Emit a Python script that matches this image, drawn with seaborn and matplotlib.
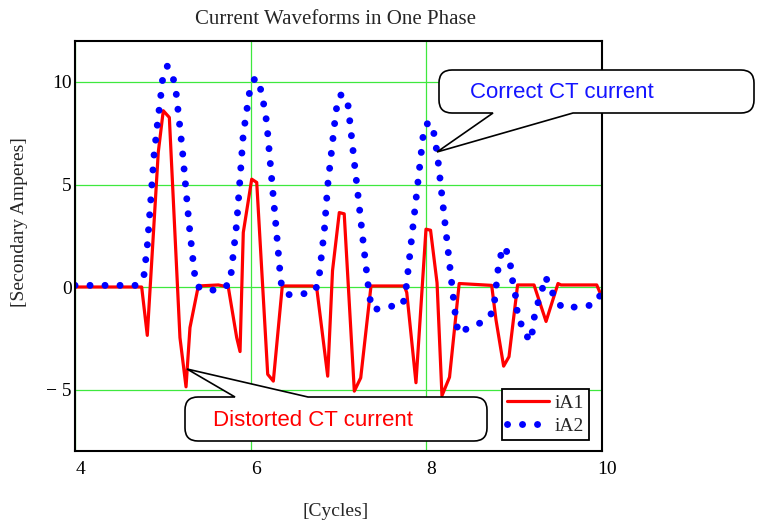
import matplotlib
matplotlib.use("Agg")
import matplotlib.pyplot as plt
import seaborn as sns
from matplotlib.path import Path
from matplotlib.patches import PathPatch
from matplotlib.transforms import Affine2D, ScaledTranslation

# ---------------- data ----------------
iA1_cycles = [4.0, 4.759, 4.823, 4.948, 5.005, 5.074, 5.195, 5.264, 5.309, 5.404,
              5.632, 5.745, 5.841, 5.879, 5.916, 6.012, 6.069, 6.194, 6.258, 6.360,
              6.702, 6.752, 6.877, 6.932, 7.009, 7.065, 7.180, 7.253, 7.370, 7.749,
              7.777, 7.882, 7.996, 8.048, 8.122, 8.178, 8.264, 8.374, 8.744, 8.793,
              8.880, 8.941, 9.039, 9.226, 9.363, 9.499, 9.533, 9.940, 10.0]
iA1_amps = [0.0, 0.0, -2.36, 6.57, 8.6, 8.27, -2.47, -4.87, -1.98, 0.05,
            0.1, 0.0, -2.47, -3.15, 2.66, 5.26, 5.1, -4.26, -4.59, 0.05,
            0.05, -0.05, -4.35, 0.8, 3.63, 3.57, -5.08, -4.43, 0.05, 0.05,
            -0.27, -4.67, 2.82, 2.77, 0.2, -5.3, -4.4, 0.17, 0.08, -1.6,
            -3.86, -3.4, 0.1, 0.1, -1.68, 0.17, 0.1, 0.1, -0.5]

iA2_cycles = [4.0, 4.709, 4.786, 4.823, 4.862, 4.899, 4.937, 4.976, 4.994, 5.051,
              5.108, 5.147, 5.184, 5.222, 5.260, 5.298, 5.336, 5.374, 5.43, 5.488,
              5.651, 5.765, 5.802, 5.841, 5.879, 5.916, 5.955, 5.992, 6.035, 6.069,
              6.126, 6.183, 6.220, 6.258, 6.297, 6.334, 6.353, 6.40, 6.448, 6.619,
              6.740, 6.782, 6.80, 6.839, 6.877, 6.915, 6.953, 6.972, 7.009, 7.05,
              7.105, 7.143, 7.180, 7.219, 7.256, 7.294, 7.333, 7.352, 7.390, 7.560,
              7.731, 7.765, 7.803, 7.841, 7.879, 7.917, 7.955, 7.974, 8.02, 8.068,
              8.125, 8.182, 8.239, 8.296, 8.335, 8.364, 8.478, 8.649, 8.763, 8.782,
              8.820, 8.858, 8.896, 8.953, 8.972, 9.010, 9.047, 9.12, 9.165, 9.20,
              9.218, 9.256, 9.314, 9.351, 9.408, 9.465, 9.560, 9.724, 9.894, 10.0]
iA2_amps = [0.08, 0.08, 0.6, 2.0, 4.2, 6.4, 7.9, 9.3, 10.05, 10.77,
            10.36, 9.64, 8.2, 6.7, 4.9, 3.1, 1.6, 0.18, -0.1, -0.15,
            -0.15, 0.18, 1.6, 3.1, 5.3, 7.46, 8.6, 9.64, 10.1, 10.2,
            9.48, 8.03, 6.2, 4.38, 2.55, 0.73, 0.0, -0.3, -0.39, -0.32,
            -0.15, 0.59, 1.3, 2.77, 4.95, 6.4, 7.87, 8.6, 9.33, 9.4,
            9.0, 7.54, 6.08, 4.6, 3.16, 1.7, 0.26, -0.47, -1.12, -0.96,
            -0.88, -0.24, 1.22, 2.69, 4.14, 5.6, 7.05, 7.79, 8.0, 7.95,
            6.48, 4.28, 2.1, -0.08, -1.53, -2.26, -2.0, -1.69, -1.2, -0.47,
            1.0, 1.73, 1.97, 1.24, 0.5, -0.23, -1.69, -1.95, -2.65, -2.45,
            -1.69, -0.96, -0.23, 0.5, 0.1, -0.64, -1.04, -0.96, -0.88, -0.3]

series_labels = ["iA1", "iA2"]
x_ticks = [4, 6, 8, 10]
x_tick_labels = ["4", "6", "8", "10"]
y_ticks = [-5, 0, 5, 10]
y_tick_labels = ["\u2212 5", "0", "5", "10"]
title_text = "Current Waveforms in One Phase"
x_label = "[Cycles]"
y_label = "[Secondary Amperes]"
callout_correct = "Correct CT current"
callout_distorted = "Distorted CT current"

# ---------------- style ----------------
sns.set_style("white")
plt.rcParams["font.family"] = ["Liberation Serif", "DejaVu Serif"]
plt.rcParams["axes.unicode_minus"] = True

W, H = 757, 527
fig = plt.figure(figsize=(W / 100, H / 100), dpi=100)
fig.patch.set_facecolor("white")
ax = fig.add_axes([75 / W, 1 - 451 / H, 527 / W, 410 / H])

sns.lineplot(x=iA1_cycles, y=iA1_amps, ax=ax, color="#ff0000", linewidth=2.3,
             sort=False, estimator=None, label=series_labels[0])
sns.lineplot(x=iA2_cycles, y=iA2_amps, ax=ax, color="#0000ff", linewidth=5,
             linestyle=(0, (0.01, 2.15)), dash_capstyle="round",
             sort=False, estimator=None, label=series_labels[1])

ax.set_xlim(4, 10)
ax.set_ylim(-8, 12)
ax.set_xticks(x_ticks, x_tick_labels)
ax.set_yticks(y_ticks, y_tick_labels)
ax.tick_params(axis="both", length=0, labelsize=14, colors="black")
ax.tick_params(axis="x", pad=7)
ax.tick_params(axis="y", pad=2.5)
for lab in ax.get_xticklabels():
    lab.set_transform(lab.get_transform() + ScaledTranslation(0.05, 0, fig.dpi_scale_trans))

ax.grid(True, color="#3ee83e", linewidth=0.9)
ax.set_axisbelow(True)
for sp in ax.spines.values():
    sp.set_visible(True)
    sp.set_color("black")
    sp.set_linewidth(1.5)

ax.set_xlabel(x_label, fontsize=14, va="top")
ax.xaxis.set_label_coords((336 - 75) / 527, (451 - 503) / 410)
ax.set_ylabel(y_label, fontsize=14, va="center")
ax.yaxis.set_label_coords((20 - 75) / 527, (451 - 222) / 410)

fig.text(335.5 / W, 1 - 24.5 / H, title_text, fontsize=15, ha="center", va="baseline")

handles, labels = ax.get_legend_handles_labels()
leg = ax.legend(handles[:2], labels[:2], loc="lower right",
                bbox_to_anchor=((589 - 75) / 527, (451 - 440) / 410),
                borderaxespad=0, fontsize=14, handlelength=2.15, handletextpad=0.3,
                borderpad=0.25, labelspacing=0.3, frameon=True, fancybox=False,
                edgecolor="black", framealpha=1)
leg.get_frame().set_linewidth(1.3)

# ---------------- callouts (pixel coordinates) ----------------
pxT = Affine2D().scale(1 / W, 1 / H) + fig.transFigure


def callout(left, right, top, bottom, r, side, b1, b2, tip):
    yt, yb = H - top, H - bottom
    tx, ty = tip[0], H - tip[1]
    v, c = [], []

    def add(p, code):
        v.append(p)
        c.append(code)

    add((left + r, yt), Path.MOVETO)
    if side == "top":
        add((b1, yt), Path.LINETO)
        add((tx, ty), Path.LINETO)
        add((b2, yt), Path.LINETO)
    add((right - r, yt), Path.LINETO)
    add((right, yt), Path.CURVE3)
    add((right, yt - r), Path.CURVE3)
    add((right, yb + r), Path.LINETO)
    add((right, yb), Path.CURVE3)
    add((right - r, yb), Path.CURVE3)
    if side == "bottom":
        add((b2, yb), Path.LINETO)
        add((tx, ty), Path.LINETO)
        add((b1, yb), Path.LINETO)
    add((left + r, yb), Path.LINETO)
    add((left, yb), Path.CURVE3)
    add((left, yb + r), Path.CURVE3)
    add((left, yt - r), Path.LINETO)
    add((left, yt), Path.CURVE3)
    add((left + r, yt), Path.CURVE3)
    add((left + r, yt), Path.CLOSEPOLY)
    patch = PathPatch(Path(v, c), facecolor="white", edgecolor="black",
                      linewidth=1.2, transform=pxT, clip_on=False, zorder=4)
    fig.add_artist(patch)


callout(439, 754, 70, 113, 13, "bottom", 493, 573, (437, 152))
callout(185, 487, 397, 441, 13, "top", 235, 308, (187, 369))

fig.text(470 / W, 1 - 93 / H, callout_correct, color="#1414ff", fontsize=16,
         family=["Liberation Sans", "DejaVu Sans"], ha="left", va="center", zorder=5)
fig.text(213 / W, 1 - 420 / H, callout_distorted, color="#ff0000", fontsize=16,
         family=["Liberation Sans", "DejaVu Sans"], ha="left", va="center", zorder=5)

fig.savefig("out.png", dpi=100, facecolor="white")
